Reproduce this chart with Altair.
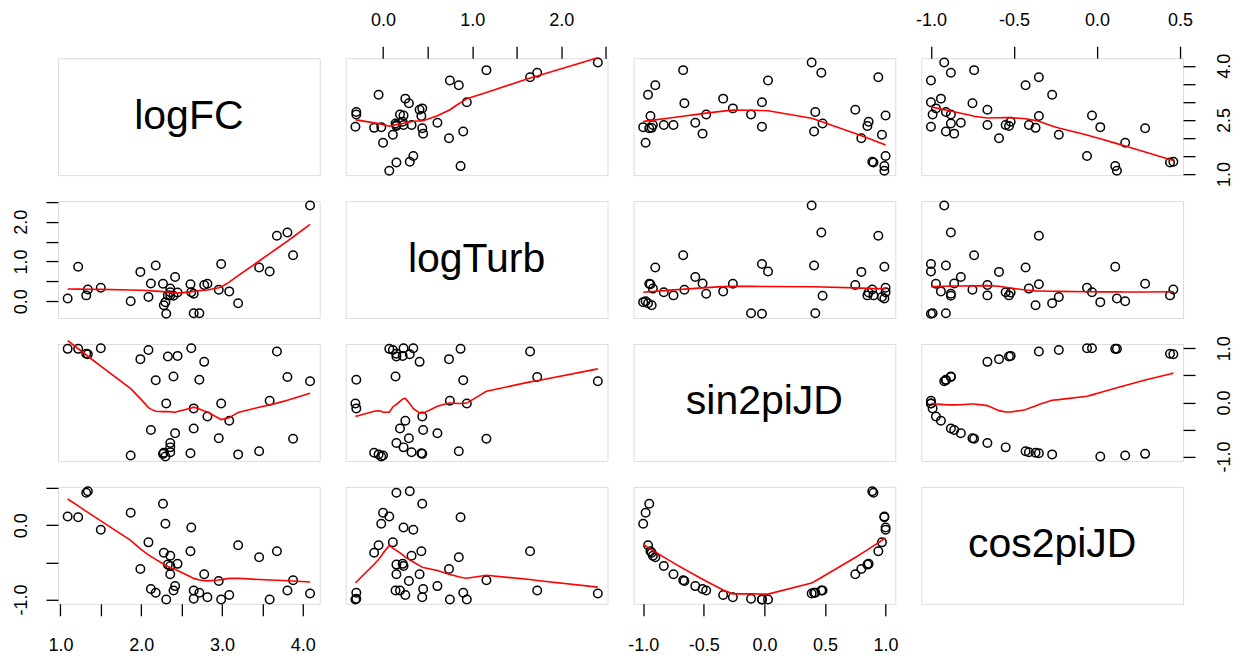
import altair as alt
import pandas as pd

# ---- data ----
sin2piJD = [0.90, 0.89, 0.99, 0.99, 1.00, 1.00, 0.97, 0.94, 0.86, 0.85,
            0.80, 0.75, 0.39, 0.47, 0.42, 0.48, 0.41, 0.03, -0.02, -0.02,
            -0.11, -0.26, -0.34, -0.48, -0.51, -0.57, -0.66, -0.67, -0.75, -0.83,
            -0.90, -0.93, -0.94, -0.96, -1.00, -0.98, -0.95, -0.92]
cos2piJD = [0.44, 0.46, 0.11, 0.12, -0.06, -0.03, -0.23, -0.35, -0.52, -0.53,
            -0.59, -0.66, -0.92, -0.88, -0.91, -0.88, -0.91, -1.00, -1.00, -1.00,
            -0.99, -0.97, -0.94, -0.88, -0.86, -0.82, -0.75, -0.74, -0.66, -0.55,
            -0.43, -0.37, -0.35, -0.27, 0.02, 0.17, 0.29, -0.41]
logFC = [1.32, 1.34, 1.22, 1.09, 1.50, 2.62, 2.09, 3.68, 2.45, 2.33,
         1.99, 2.78, 4.09, 3.81, 2.72, 2.40, 2.18, 3.59, 2.99, 2.31,
         2.65, 2.82, 3.09, 2.65, 2.12, 2.42, 2.96, 3.88, 2.36, 2.36,
         3.46, 2.28, 2.61, 3.20, 2.30, 1.87, 2.27, 2.36]
logTurb = [0.15, 0.30, 0.87, 0.07, 0.34, 0.23, 0.11, 1.65, 0.22, 0.15,
           0.74, 0.41, 2.41, 1.73, -0.30, 0.14, 0.90, 0.75, 0.94, -0.31,
           -0.30, 0.44, 0.25, 0.19, 0.45, 0.61, 0.29, 1.16, 0.15, 0.23,
           0.85, -0.10, 0.43, -0.05, -0.02, 0.00, 0.44, 0.32]

names = ["logFC", "logTurb", "sin2piJD", "cos2piJD"]
tick_values = {
    "logFC": [1.0, 1.5, 2.0, 2.5, 3.0, 3.5, 4.0],
    "logTurb": [0.0, 0.5, 1.0, 1.5, 2.0, 2.5],
    "sin2piJD": [-1.0, -0.5, 0.0, 0.5, 1.0],
    "cos2piJD": [-1.0, -0.5, 0.0, 0.5],
}
x_labels = {
    "logFC": [1.0, 2.0, 3.0, 4.0],
    "logTurb": [0.0, 1.0, 2.0],
    "sin2piJD": [-1.0, -0.5, 0.0, 0.5, 1.0],
    "cos2piJD": [-1.0, -0.5, 0.0, 0.5],
}
y_labels = {
    "logFC": [1.0, 2.5, 4.0],
    "logTurb": [0.0, 1.0, 2.0],
    "sin2piJD": [-1.0, 0.0, 1.0],
    "cos2piJD": [-1.0, 0.0],
}

df = pd.DataFrame({"logFC": logFC, "logTurb": logTurb,
                   "sin2piJD": sin2piJD, "cos2piJD": cos2piJD})

W, H = 262, 117
FONT = "Liberation Sans"


def dom(v):
    lo, hi = float(df[v].min()), float(df[v].max())
    r = hi - lo
    return [lo - 0.04 * r, hi + 0.04 * r]


def lab_expr(vals):
    arr = ",".join(repr(float(v)) for v in vals)
    return (f"indexof([{arr}], datum.value) >= 0 ? "
            "(datum.value < 0 ? '-' : '') + format(abs(datum.value), '.1f') : ''")


common = dict(domain=False, grid=False, ticks=True, tickColor="black",
              tickSize=12, tickWidth=1.3, labelFont=FONT, labelFontSize=18,
              labelColor="black", title=None, labelOverlap=False)


def x_axis(i, j, v):
    if i == 0 and j in (1, 3):
        return alt.Axis(orient="top", values=tick_values[v], labelExpr=lab_expr(x_labels[v]),
                        labelPadding=17, labelAngle=0, labelAlign="center",
                        labelBaseline="bottom", **common)
    if i == 3 and j in (0, 2):
        return alt.Axis(orient="bottom", values=tick_values[v], labelExpr=lab_expr(x_labels[v]),
                        labelPadding=21, labelAngle=0, labelAlign="center",
                        labelBaseline="top", **common)
    return None


def y_axis(i, j, v):
    if j == 0 and i in (1, 3):
        return alt.Axis(orient="left", values=tick_values[v], labelExpr=lab_expr(y_labels[v]),
                        labelPadding=15, labelAngle=270, labelAlign="center",
                        labelBaseline="bottom", **common)
    if j == 3 and i in (0, 2):
        return alt.Axis(orient="right", values=tick_values[v], labelExpr=lab_expr(y_labels[v]),
                        labelPadding=20, labelAngle=270, labelAlign="center",
                        labelBaseline="top", **common)
    return None


panels = []
for i in range(4):
    for j in range(4):
        if i == j:
            t = alt.Chart(pd.DataFrame({"t": [names[i]]})).mark_text(
                font=FONT, fontSize=41, color="black", align="center", baseline="middle"
            ).encode(x=alt.value(W / 2), y=alt.value(H / 2), text="t:N").properties(width=W, height=H)
            panels.append(t)
            continue
        vx, vy = names[j], names[i]
        xkw = dict(scale=alt.Scale(domain=dom(vx), nice=False, zero=False), axis=x_axis(i, j, vx))
        ykw = dict(scale=alt.Scale(domain=dom(vy), nice=False, zero=False), axis=y_axis(i, j, vy))
        base = alt.Chart(df)
        pts = base.mark_point(shape="circle", filled=False, color="black",
                              size=72, strokeWidth=1.5, opacity=1).encode(
            x=alt.X(f"{vx}:Q", **xkw), y=alt.Y(f"{vy}:Q", **ykw))
        line = base.transform_loess(vx, vy, bandwidth=0.667).mark_line(
            color="#ff0000", strokeWidth=1.6).encode(
            x=alt.X(f"{vx}:Q", **xkw), y=alt.Y(f"{vy}:Q", **ykw))
        panels.append(alt.layer(pts, line).properties(width=W, height=H))

chart = alt.concat(*panels, columns=4, spacing=26, bounds="flush").resolve_scale(
    x="independent", y="independent").resolve_axis(x="independent", y="independent").properties(
    padding={"left": 4, "top": 2, "right": 2, "bottom": 0}
).configure_view(stroke="black", strokeWidth=1.4).configure(background="white")

chart.save("out.html", embed_options={"renderer": "svg", "actions": False})
